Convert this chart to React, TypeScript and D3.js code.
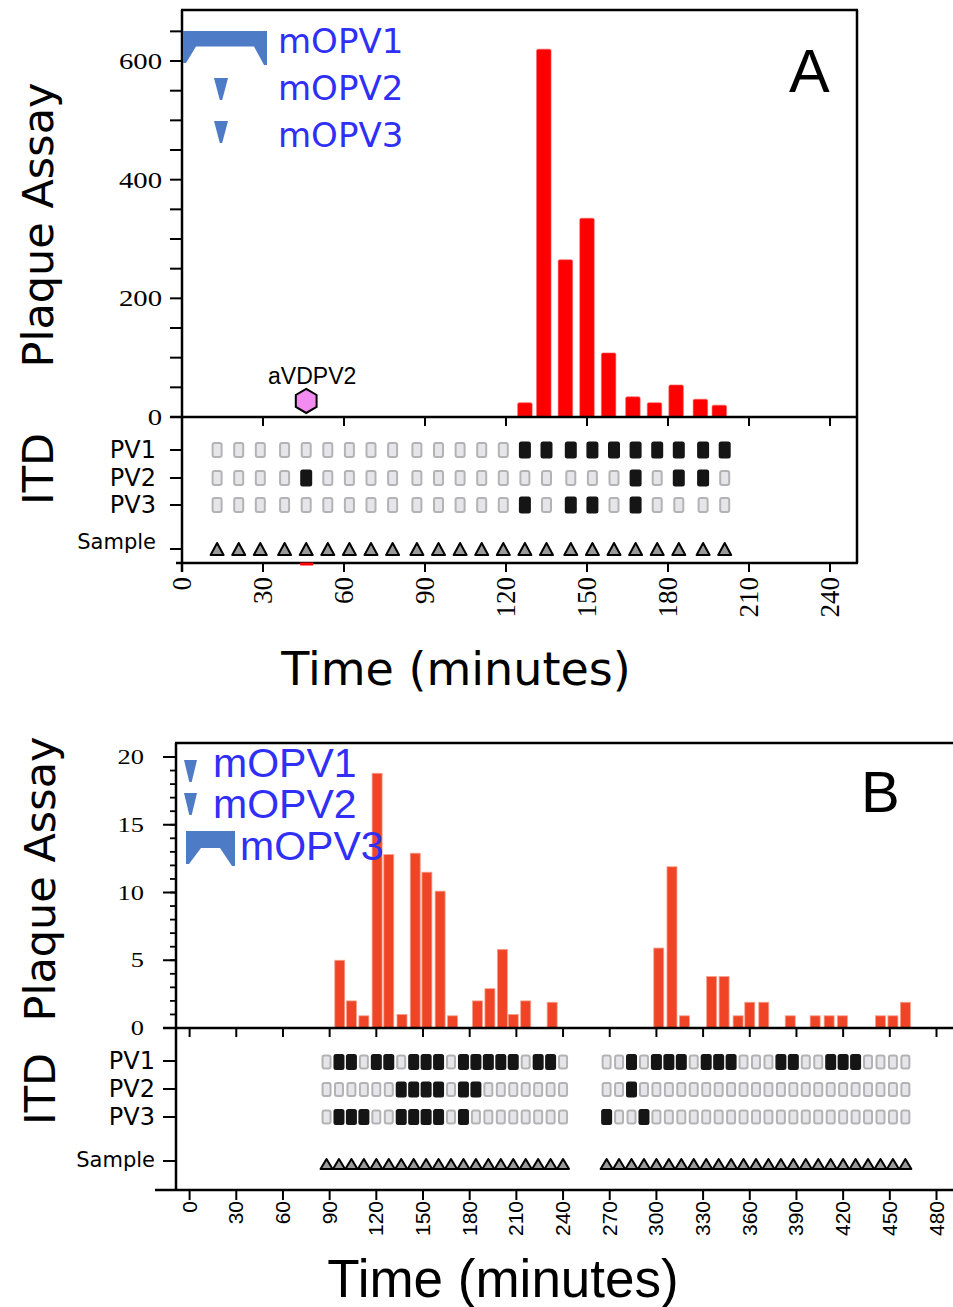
import React from 'react';
import * as d3 from 'd3';

// ---------- Panel A data ----------
const aBarTimes = [127, 134, 142, 150, 158, 167, 175, 183, 192, 199];
const aBarValues = [24, 620, 265, 335, 108, 34, 24, 54, 30, 20];
const aSampleTimes = [13, 21, 29, 38, 46, 54, 62, 70, 78, 87, 95, 103, 111, 119, 127, 135, 144, 152, 160, 168, 176, 184, 193, 201];
const aPV1 = [0, 0, 0, 0, 0, 0, 0, 0, 0, 0, 0, 0, 0, 0, 1, 1, 1, 1, 1, 1, 1, 1, 1, 1];
const aPV2 = [0, 0, 0, 0, 1, 0, 0, 0, 0, 0, 0, 0, 0, 0, 0, 0, 0, 0, 0, 1, 0, 1, 1, 0];
const aPV3 = [0, 0, 0, 0, 0, 0, 0, 0, 0, 0, 0, 0, 0, 0, 1, 0, 1, 1, 0, 1, 0, 0, 0, 0];
const aXTicks = [0, 30, 60, 90, 120, 150, 180, 210, 240];
const aYTicks = [0, 200, 400, 600];
const aYMinorTicks = [0, 50, 100, 150, 200, 250, 300, 350, 400, 450, 500, 550, 600, 650];
const aVDPV2Time = 46;
const aVDPV2Value = 27;
const aLegend = ['mOPV1', 'mOPV2', 'mOPV3'];

// ---------- Panel B data ----------
const bBarTimes = [96.5, 104, 112, 120.5, 128, 136.5, 145, 152.5, 161, 169, 185, 193, 201, 208, 216, 233,
  301.5, 310, 318, 335.5, 343.5, 352.5, 360, 369, 386, 402, 411, 419.5, 444, 452, 460];
const bBarValues = [5, 2, 0.9, 18.8, 12.8, 1, 12.9, 11.5, 10.1, 0.9, 2, 2.9, 5.8, 1, 2, 1.9,
  5.9, 11.9, 0.9, 3.8, 3.8, 0.9, 1.9, 1.9, 0.9, 0.9, 0.9, 0.9, 0.9, 0.9, 1.9];
const bSampleTimes = [88, 96, 104, 112, 120, 128, 136, 144, 152, 160, 168, 176, 184, 192, 200, 208, 216, 224, 232, 240,
  268, 276, 284, 292, 300, 308, 316, 324, 332, 340, 348, 356, 364, 372, 380, 388, 396, 404, 412, 420, 428, 436, 444, 452, 460];
const bPV1 = [0, 1, 1, 0, 1, 1, 0, 1, 1, 1, 0, 1, 1, 1, 1, 1, 0, 1, 1, 0,
  0, 0, 1, 0, 1, 1, 1, 0, 1, 1, 1, 0, 0, 0, 1, 1, 0, 0, 1, 1, 1, 0, 0, 0, 0];
const bPV2 = [0, 0, 0, 0, 0, 0, 1, 1, 1, 1, 0, 1, 1, 0, 0, 0, 0, 0, 0, 0,
  0, 0, 1, 0, 0, 0, 0, 0, 0, 0, 0, 0, 0, 0, 0, 0, 0, 0, 0, 0, 0, 0, 0, 0, 0];
const bPV3 = [0, 1, 1, 1, 0, 0, 1, 1, 1, 1, 0, 1, 0, 0, 0, 0, 0, 0, 0, 0,
  1, 0, 0, 1, 0, 0, 0, 0, 0, 0, 0, 0, 0, 0, 0, 0, 0, 0, 0, 0, 0, 0, 0, 0, 0];
const bXTicks = [0, 30, 60, 90, 120, 150, 180, 210, 240, 270, 300, 330, 360, 390, 420, 450, 480];
const bYTicks = [0, 5, 10, 15, 20];
const bYMinorTicks = d3.range(0, 21);
const bLegend = ['mOPV1', 'mOPV2', 'mOPV3'];

const itdRows = ['PV1', 'PV2', 'PV3'];

const SERIF = '"Liberation Serif", "Times New Roman", serif';
const SANS = '"Liberation Sans", Arial, sans-serif';
const DSANS = '"DejaVu Sans", Verdana, sans-serif';
const MARK_BLUE = '#4d7bc6';
const TEXT_BLUE = '#2f2ff5';

function smallTri(cx: number, top: number, w: number, h: number) {
  return `M${cx - w / 2},${top} L${cx + w / 2},${top} L${cx + 1.2},${top + h} L${cx - 1.2},${top + h} Z`;
}
function bracket(x0: number, y0: number, w: number, h: number, bar: number, leg: number) {
  return `M${x0},${y0} L${x0 + w},${y0} L${x0 + w},${y0 + h} L${x0 + w - 3},${y0 + h} L${x0 + w - leg},${y0 + bar} L${x0 + leg},${y0 + bar} L${x0 + 3},${y0 + h - 2} L${x0},${y0 + h - 2} Z`;
}
function hexagon(cx: number, cy: number, r: number) {
  const pts = d3.range(6).map((i) => {
    const a = (Math.PI / 3) * i - Math.PI / 2;
    return [cx + r * Math.cos(a), cy + r * Math.sin(a)];
  });
  return 'M' + pts.map((p) => p.join(',')).join('L') + 'Z';
}

function Cell({ x, y, on, w, h }: { x: number; y: number; on: number; w: number; h: number }) {
  return on ? (
    <rect x={x - w / 2 - 0.5} y={y - h / 2 - 0.5} width={w + 1} height={h + 1} rx={2.5} fill="#151515" />
  ) : (
    <rect x={x - w / 2 + 1} y={y - h / 2 + 1} width={w - 2} height={h - 2} rx={2} fill="#e6e6ea" stroke="#b3b3b5" strokeWidth={2} />
  );
}

function SampleTri({ x, y, w, h }: { x: number; y: number; w: number; h: number }) {
  return <path d={`M${x},${y - h / 2} L${x + w / 2},${y + h / 2} L${x - w / 2},${y + h / 2} Z`} fill="#9a9a9a" stroke="#000" strokeWidth={2} strokeLinejoin="round" />;
}

function PanelA() {
  const x = d3.scaleLinear().domain([0, 250]).range([182, 857]);
  const y = d3.scaleLinear().domain([0, 686]).range([417, 10]);
  const rowY = d3.scaleOrdinal<string, number>().domain(['PV1', 'PV2', 'PV3', 'Sample']).range([450, 478, 505, 549]);
  const rows = [aPV1, aPV2, aPV3];
  const bottom = 563;
  const bw = 14.5;
  return (
    <g>
      {aBarTimes.map((t, i) => (
        <rect key={i} x={x(t) - bw / 2} y={y(aBarValues[i])} width={bw} height={y(0) - y(aBarValues[i])} rx={1.5} fill="#ff0000" stroke="#ff6060" strokeWidth={0.6} />
      ))}
      <line x1={182} x2={182} y1={10} y2={bottom + 9} stroke="#000" strokeWidth={2.5} />
      <line x1={181} x2={858} y1={10} y2={10} stroke="#000" strokeWidth={2.5} />
      <line x1={857} x2={857} y1={10} y2={bottom} stroke="#000" strokeWidth={2.5} />
      <line x1={170} x2={858} y1={y(0)} y2={y(0)} stroke="#000" strokeWidth={2.5} />
      <line x1={176} x2={858} y1={bottom} y2={bottom} stroke="#000" strokeWidth={2.5} />
      {aYMinorTicks.map((v) => (
        <line key={v} x1={170} x2={182} y1={y(v)} y2={y(v)} stroke="#000" strokeWidth={2} />
      ))}
      {aYTicks.map((v) => (
        <text key={v} transform={`translate(162,${y(v) + 8}) scale(1.25,1)`} textAnchor="end" fontFamily={SERIF} fontSize={23}>{v}</text>
      ))}
      {aXTicks.map((v) => (
        <g key={v}>
          <line x1={x(v)} x2={x(v)} y1={bottom} y2={bottom + 9} stroke="#000" strokeWidth={2} />
          {v > 0 && <line x1={x(v)} x2={x(v)} y1={y(0)} y2={y(0) + 9} stroke="#000" strokeWidth={2} />}
          <text transform={`translate(${x(v) + 9},${577}) rotate(-90)`} textAnchor="end" fontFamily={SERIF} fontSize={27}>{v}</text>
        </g>
      ))}
      {['PV1', 'PV2', 'PV3', 'Sample'].map((r) => (
        <g key={r}>
          <line x1={170} x2={182} y1={rowY(r)} y2={rowY(r)} stroke="#000" strokeWidth={2} />
          <text x={156} y={rowY(r) + (r === 'Sample' ? 0 : 8)} textAnchor="end" fontFamily={DSANS} fontSize={r === 'Sample' ? 21 : 24}>{r}</text>
        </g>
      ))}
      {rows.map((row, ri) =>
        aSampleTimes.map((t, i) => <Cell key={`${ri}-${i}`} x={x(t)} y={rowY(itdRows[ri])} on={row[i]} w={11} h={16} />)
      )}
      {aSampleTimes.map((t, i) => (
        <SampleTri key={i} x={x(t)} y={rowY('Sample')} w={13} h={12} />
      ))}
      <path d={hexagon(x(aVDPV2Time), y(aVDPV2Value), 12)} fill="#f28cf0" stroke="#000" strokeWidth={2} />
      <text x={x(aVDPV2Time) + 6} y={384} textAnchor="middle" fontFamily={SANS} fontSize={23}>aVDPV2</text>
      <line x1={x(aVDPV2Time) - 6} x2={x(aVDPV2Time) + 7} y1={bottom + 1} y2={bottom + 1} stroke="#ff0000" strokeWidth={3} />
      <path d={bracket(183, 31, 84, 34, 15.5, 13)} fill={MARK_BLUE} />
      <path d={smallTri(221, 78, 14, 22)} fill={MARK_BLUE} />
      <path d={smallTri(221, 121, 14, 22)} fill={MARK_BLUE} />
      {aLegend.map((l, i) => (
        <text key={l} x={278} y={53 + i * 47} fontFamily={DSANS} fontSize={34} fill={TEXT_BLUE}>{l}</text>
      ))}
      <text x={789} y={92} fontFamily={SANS} fontSize={61}>A</text>
      <text transform="translate(53,225) rotate(-90)" textAnchor="middle" fontFamily={DSANS} fontSize={43}>Plaque Assay</text>
      <text transform="translate(53,469) rotate(-90)" textAnchor="middle" fontFamily={DSANS} fontSize={43}>ITD</text>
      <text x={456} y={685} textAnchor="middle" fontFamily={DSANS} fontSize={46}>Time (minutes)</text>
    </g>
  );
}

function PanelB() {
  const x = d3.scaleLinear().domain([0, 480]).range([189.6, 936.5]);
  const y = d3.scaleLinear().domain([0, 20]).range([1028, 757]);
  const rowY = d3.scaleOrdinal<string, number>().domain(['PV1', 'PV2', 'PV3', 'Sample']).range([1062, 1089.5, 1117, 1164]);
  const tickY = d3.scaleOrdinal<string, number>().domain(['PV1', 'PV2', 'PV3', 'Sample']).range([1061, 1089, 1117, 1161]);
  const rows = [bPV1, bPV2, bPV3];
  const top = 743;
  const bottom = 1190;
  const bw = 10;
  return (
    <g>
      {bBarTimes.map((t, i) => (
        <rect key={i} x={x(t) - bw / 2} y={y(bBarValues[i])} width={bw} height={y(0) - y(bBarValues[i])} fill="#ef4526" stroke="#f6a08e" strokeWidth={0.8} />
      ))}
      <line x1={176} x2={176} y1={top} y2={bottom} stroke="#000" strokeWidth={2.5} />
      <line x1={175} x2={953} y1={top} y2={top} stroke="#000" strokeWidth={2.5} />
      <line x1={163} x2={953} y1={y(0)} y2={y(0)} stroke="#000" strokeWidth={2.5} />
      <line x1={155} x2={953} y1={bottom} y2={bottom} stroke="#000" strokeWidth={2.5} />
      {bYMinorTicks.map((v) => (
        <line key={v} x1={170} x2={176} y1={y(v)} y2={y(v)} stroke="#000" strokeWidth={1.8} />
      ))}
      {bYTicks.map((v) => (
        <g key={v}>
          <line x1={163} x2={176} y1={y(v)} y2={y(v)} stroke="#000" strokeWidth={2} />
          <text transform={`translate(144,${y(v) + 7}) scale(1.2,1)`} textAnchor="end" fontFamily={SERIF} fontSize={22}>{v}</text>
        </g>
      ))}
      {bXTicks.map((v) => (
        <g key={v}>
          <line x1={x(v)} x2={x(v)} y1={bottom} y2={bottom + 10} stroke="#000" strokeWidth={2} />
          <line x1={x(v)} x2={x(v)} y1={y(0)} y2={y(0) + 9} stroke="#000" strokeWidth={2} />
          <text transform={`translate(${x(v) + 7},${1201}) rotate(-90)`} textAnchor="end" fontFamily={SANS} fontSize={21}>{v}</text>
        </g>
      ))}
      {['PV1', 'PV2', 'PV3', 'Sample'].map((r) => (
        <g key={r}>
          <line x1={163} x2={176} y1={tickY(r)} y2={tickY(r)} stroke="#000" strokeWidth={2} />
          <text x={155} y={tickY(r) + (r === 'Sample' ? 6 : 8)} textAnchor="end" fontFamily={DSANS} fontSize={r === 'Sample' ? 21 : 24}>{r}</text>
        </g>
      ))}
      {rows.map((row, ri) =>
        bSampleTimes.map((t, i) => <Cell key={`${ri}-${i}`} x={x(t)} y={rowY(itdRows[ri])} on={row[i]} w={10} h={15} />)
      )}
      {bSampleTimes.map((t, i) => (
        <SampleTri key={i} x={x(t)} y={rowY('Sample')} w={12} h={10} />
      ))}
      <path d={smallTri(190.5, 760, 13, 22)} fill={MARK_BLUE} />
      <path d={smallTri(190.5, 793, 13, 22)} fill={MARK_BLUE} />
      <path d={bracket(186, 831, 49, 35, 17, 15)} fill={MARK_BLUE} />
      <text x={213} y={777} fontFamily={SANS} fontSize={41} fill={TEXT_BLUE}>{bLegend[0]}</text>
      <text x={213} y={818} fontFamily={SANS} fontSize={41} fill={TEXT_BLUE}>{bLegend[1]}</text>
      <text x={240} y={860} fontFamily={SANS} fontSize={41} fill={TEXT_BLUE}>{bLegend[2]}</text>
      <text x={861} y={812} fontFamily={SANS} fontSize={58}>B</text>
      <text transform="translate(55,879) rotate(-90)" textAnchor="middle" fontFamily={DSANS} fontSize={43}>Plaque Assay</text>
      <text transform="translate(55,1089) rotate(-90)" textAnchor="middle" fontFamily={DSANS} fontSize={43}>ITD</text>
      <text x={503} y={1297} textAnchor="middle" fontFamily={SANS} fontSize={53}>Time (minutes)</text>
    </g>
  );
}

export default function App() {
  return (
    <svg width={953} height={1307} style={{ position: 'absolute', left: 0, top: 0, background: '#fff' }}>
      <rect width={953} height={1307} fill="#fff" />
      <PanelA />
      <PanelB />
    </svg>
  );
}
